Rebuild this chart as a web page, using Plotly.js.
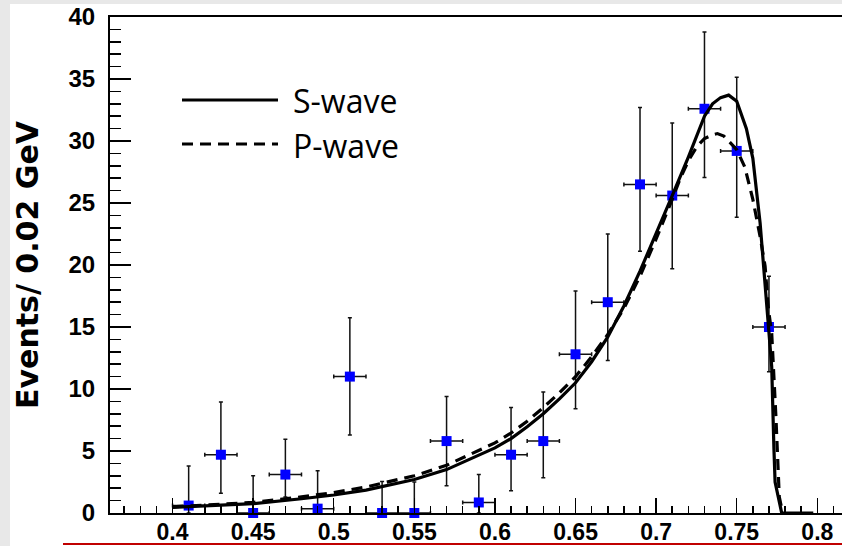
<!DOCTYPE html>
<html>
<head>
<meta charset="utf-8">
<script src="https://cdn.plot.ly/plotly-3.0.1.min.js"></script>
<style>
  html, body { margin: 0; padding: 0; overflow: hidden; background: #ffffff; }
  #chart { width: 866px; height: 546px; }
</style>
</head>
<body>
<div id="chart"></div>
<script>
// Measured spectrum: bin centres (GeV), event counts and error-bar ends
const binCenters = [0.41, 0.43, 0.45, 0.47, 0.49, 0.51, 0.53, 0.55, 0.57, 0.59,
                    0.61, 0.63, 0.65, 0.67, 0.69, 0.71, 0.73, 0.75, 0.77];
const counts     = [0.6, 4.7, 0.0, 3.1, 0.35, 11.0, 0.0, 0.0, 5.8, 0.85,
                    4.7, 5.8, 12.8, 17.0, 26.5, 25.6, 32.6, 29.2, 15.0];
const errTop     = [3.8, 8.95, 3.0, 5.95, 3.4, 15.75, 2.55, 2.5, 9.4, 3.1,
                    8.5, 9.75, 17.9, 22.5, 32.7, 31.45, 38.8, 35.15, 19.1];
const errBottom  = [0.0, 1.6, 0.0, 1.3, 0.0, 6.3, 0.0, 0.0, 2.2, 0.0,
                    1.8, 2.85, 8.4, 12.3, 21.1, 19.7, 27.05, 23.85, 11.4];
const binHalfWidth = 0.01;

// Fitted line shapes
const sWaveX = [0.400, 0.420, 0.450, 0.480, 0.500, 0.520, 0.550, 0.570, 0.600, 0.610,
                0.620, 0.630, 0.640, 0.650, 0.660, 0.670, 0.680, 0.690, 0.700, 0.710,
                0.720, 0.725, 0.730, 0.735, 0.740, 0.745, 0.750, 0.756, 0.760, 0.7645,
                0.7676, 0.7697, 0.7717, 0.7731, 0.7738, 0.7779, 0.7975];
const sWaveY = [0.45, 0.55, 0.75, 1.15, 1.45, 1.85, 2.7, 3.5, 5.25, 6.0,
                6.95, 8.0, 9.2, 10.5, 12.2, 14.2, 16.7, 19.5, 22.5, 25.6,
                28.7, 30.4, 32.0, 33.0, 33.5, 33.7, 33.2, 31.0, 28.6, 23.4,
                18.5, 15.0, 11.8, 5.1, 2.5, 0.0, 0.0];

const pWaveX = [0.400, 0.420, 0.450, 0.480, 0.500, 0.520, 0.550, 0.570, 0.600, 0.610,
                0.620, 0.630, 0.640, 0.650, 0.660, 0.670, 0.680, 0.690, 0.700, 0.710,
                0.715, 0.720, 0.725, 0.730, 0.735, 0.738, 0.742, 0.745, 0.750, 0.755,
                0.760, 0.7645, 0.7676, 0.7697, 0.7717, 0.7743, 0.7764, 0.7785];
const pWaveY = [0.5, 0.62, 0.85, 1.3, 1.65, 2.1, 3.0, 3.85, 5.65, 6.45,
                7.4, 8.5, 9.7, 11.0, 12.6, 14.4, 16.5, 19.1, 22.1, 25.3,
                27.0, 28.4, 29.5, 30.2, 30.5, 30.6, 30.4, 30.0, 29.3, 27.9,
                25.3, 22.3, 19.9, 16.4, 14.5, 7.8, 1.3, 0.0];

// Axis labelling
const xTickVals = [0.4, 0.45, 0.5, 0.55, 0.6, 0.65, 0.7, 0.75, 0.8];
const xTickText = ['0.4', '0.45', '0.5', '0.55', '0.6', '0.65', '0.7', '0.75', '0.8'];
const yTickVals = [0, 5, 10, 15, 20, 25, 30, 35, 40];
const yTickText = ['0', '5', '10', '15', '20', '25', '30', '35', '40'];
const yAxisTitle = 'Events/ 0.02 GeV';
const curveNames = ['S-wave', 'P-wave'];

const errUp = counts.map((c, i) => errTop[i] - c);
const errDown = counts.map((c, i) => c - errBottom[i]);

const dataTrace = {
  type: 'scatter', mode: 'markers', name: 'data',
  x: binCenters, y: counts, cliponaxis: false,
  marker: { symbol: 'square', size: 10, color: '#0000ff' },
  error_x: { type: 'constant', value: binHalfWidth, color: '#111111', thickness: 1.5, width: 2 },
  error_y: { type: 'data', symmetric: false, array: errUp, arrayminus: errDown,
             color: '#111111', thickness: 1.5, width: 2 }
};
const sTrace = {
  type: 'scatter', mode: 'lines', name: curveNames[0],
  x: sWaveX, y: sWaveY, cliponaxis: false,
  line: { color: '#000000', width: 3.2 }
};
const pTrace = {
  type: 'scatter', mode: 'lines', name: curveNames[1],
  x: pWaveX, y: pWaveY, cliponaxis: false,
  line: { color: '#000000', width: 3.2, dash: '11px,7px' }
};

// plot-area geometry in px, used to place the hand-made key and page decorations
const L = 110, T = 17, W = 756, H = 496;
const px = v => (v - L) / W;
const py = v => (T + H - v) / H;

const tickFont = { family: 'Liberation Sans, Arial, sans-serif', size: 24, color: '#000000', weight: 'bold' };
const xTickFont = { family: 'Liberation Sans, Arial, sans-serif', size: 23, color: '#000000', weight: 'bold' };
const keyFont = { family: 'Open Sans, sans-serif', size: 32, color: '#000000' };

const layout = {
  width: 866, height: 546,
  margin: { l: L, r: 0, t: T, b: 546 - T - H },
  paper_bgcolor: '#ffffff', plot_bgcolor: '#ffffff',
  showlegend: false,
  xaxis: {
    range: [0.3612, 0.8302], showgrid: false, zeroline: false,
    showline: true, linecolor: '#000000', linewidth: 2, mirror: true,
    tickmode: 'array', tickvals: xTickVals, ticktext: xTickText,
    ticks: 'inside', ticklen: 15, tickwidth: 1.5, tickcolor: '#000000',
    tickfont: xTickFont, ticklabelstandoff: -3,
    minor: { tickmode: 'linear', tick0: 0, dtick: 0.01, ticks: 'inside', ticklen: 7,
             tickwidth: 1.5, tickcolor: '#000000', showgrid: false }
  },
  yaxis: {
    range: [0, 40], showgrid: false, zeroline: false,
    showline: true, linecolor: '#000000', linewidth: 2,
    tickmode: 'array', tickvals: yTickVals, ticktext: yTickText,
    ticks: 'inside', ticklen: 21, tickwidth: 1.5, tickcolor: '#000000',
    tickfont: tickFont, ticklabelstandoff: 8,
    minor: { tickmode: 'linear', tick0: 0, dtick: 1, ticks: 'inside', ticklen: 11,
             tickwidth: 1.5, tickcolor: '#000000', showgrid: false },
    title: { text: yAxisTitle, standoff: 21,
             font: { family: 'DejaVu Sans, sans-serif', size: 30, color: '#000000', weight: 'bold' } }
  },
  shapes: [
    // slide-style frame: grey margins and the red rule under the chart
    { type: 'rect', xref: 'paper', yref: 'paper', x0: px(0), x1: px(10), y0: py(560), y1: py(-10),
      fillcolor: '#e8e8e8', line: { width: 0 }, layer: 'below' },
    { type: 'rect', xref: 'paper', yref: 'paper', x0: px(0), x1: px(880), y0: py(4), y1: py(-10),
      fillcolor: '#e8e8e8', line: { width: 0 }, layer: 'below' },
    { type: 'line', xref: 'paper', yref: 'paper', x0: px(63), x1: px(880), y0: py(544), y1: py(544),
      line: { color: '#c00000', width: 2 } },
    // key
    { type: 'line', xref: 'paper', yref: 'paper', x0: px(182), x1: px(278), y0: py(100), y1: py(100),
      line: { color: '#000000', width: 3.2 } },
    { type: 'line', xref: 'paper', yref: 'paper', x0: px(182), x1: px(278), y0: py(144), y1: py(144),
      line: { color: '#000000', width: 3.2, dash: '11px,7px' } }
  ],
  annotations: [
    { xref: 'paper', yref: 'paper', x: px(291), y: py(101), xanchor: 'left', yanchor: 'middle',
      showarrow: false, text: curveNames[0], font: keyFont },
    { xref: 'paper', yref: 'paper', x: px(291), y: py(145), xanchor: 'left', yanchor: 'middle',
      showarrow: false, text: curveNames[1], font: keyFont }
  ]
};

Plotly.newPlot('chart', [dataTrace, sTrace, pTrace], layout, { displayModeBar: false, staticPlot: true });
</script>
</body>
</html>
